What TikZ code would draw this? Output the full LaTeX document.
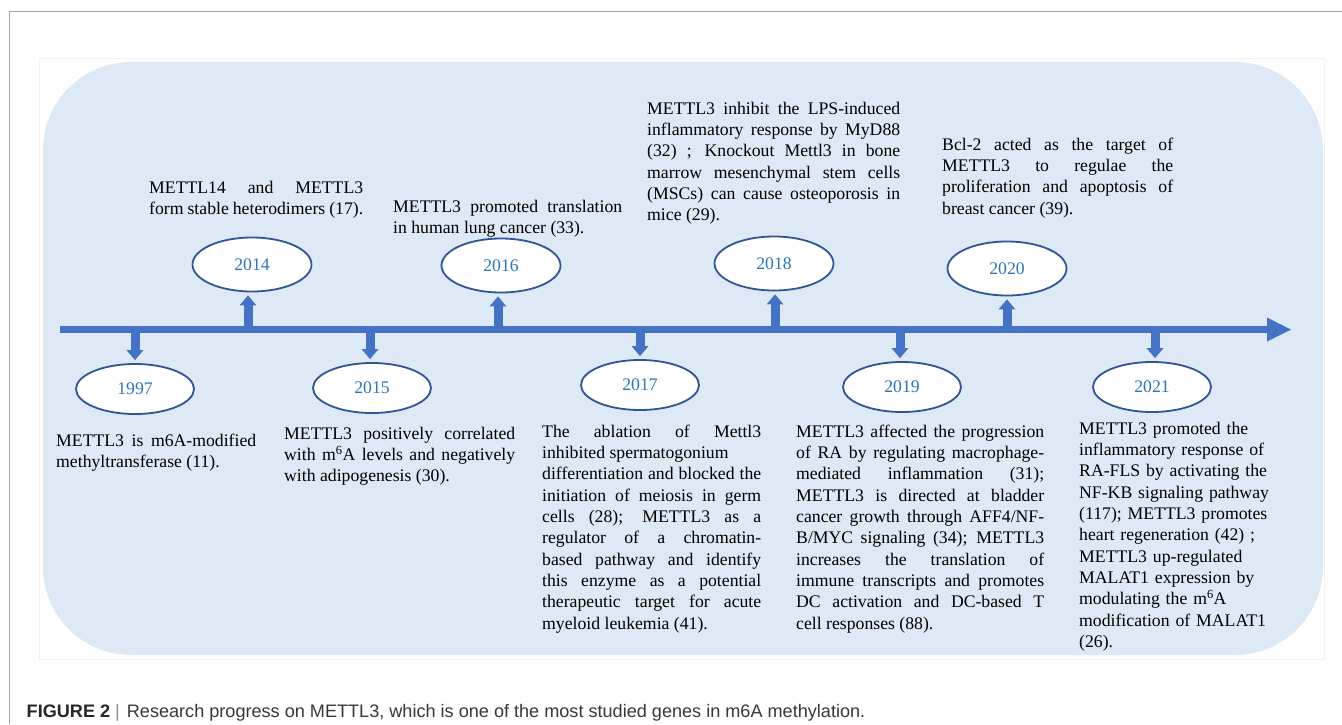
\documentclass[tikz,border=0pt]{standalone}
\usepackage{fontspec}
\setmainfont{Liberation Serif}
\setsansfont{Liberation Sans}
\usetikzlibrary{shapes.geometric,arrows.meta}

\definecolor{panelblue}{RGB}{222,233,246}
\definecolor{arrowblue}{RGB}{68,114,196}
\definecolor{ringblue}{RGB}{47,85,151}
\definecolor{yearblue}{RGB}{46,117,182}
\definecolor{framegray}{RGB}{165,165,165}
\definecolor{captiongray}{RGB}{55,55,55}

\newcommand{\bodyfont}{\fontsize{17.7}{21.35}\selectfont\hyphenpenalty=10000\exhyphenpenalty=10000\tolerance=10000}

\tikzset{
  yearring/.style={ellipse, draw=ringblue, line width=1.8pt, fill=white, inner sep=0pt,
    minimum width=118pt, minimum height=50pt, text=yearblue, font=\bodyfont},
  upring/.style={yearring, minimum width=119pt, minimum height=54pt},
  notetext/.style={anchor=base west, inner sep=0pt, align=justify, font=\bodyfont},
  timeaxis/.style={draw=arrowblue, line width=7pt, -{Triangle[width=24pt,length=24pt,line width=0pt]}},
  branch/.style={draw=arrowblue, line width=9pt, -{Triangle[width=17pt,length=10pt,line width=0pt]}, shorten >=3pt},
}

\begin{document}
\begin{tikzpicture}[x=1pt,y=-1pt]
        \useasboundingbox (0,0) rectangle (1342,724);
        \draw [framegray, line width=1pt] (9,724) -- (9,11) -- (1342,11);
        \draw [black!5, line width=0.8pt] (39,58) rectangle (1324,659);
        \fill [panelblue, rounded corners=88pt] (43,62) rectangle (1323,655);

        \coordinate (start) at (60,329.5);
        \coordinate (finish) at (1291,329.5);
        \draw [timeaxis] (start) -- (finish);

        \node [yearring] (y1997) at (135,389) {1997};
        \node [upring] (y2014) at (252,264.5) {2014};
        \node [yearring] (y2015) at (372,388) {2015};
        \node [upring] (y2016) at (501,265.5) {2016};
        \node [yearring] (y2017) at (640,385) {2017};
        \node [upring] (y2018) at (774,263.5) {2018};
        \node [yearring] (y2019) at (902,387) {2019};
        \node [upring] (y2020) at (1007,268.5) {2020};
        \node [yearring] (y2021) at (1152,387) {2021};

        \coordinate (t1997) at (135,329.5);
        \coordinate (t2014) at (248,329.5);
        \coordinate (t2015) at (370,329.5);
        \coordinate (t2016) at (498,329.5);
        \coordinate (t2017) at (640,329.5);
        \coordinate (t2018) at (775,329.5);
        \coordinate (t2019) at (900,329.5);
        \coordinate (t2020) at (1007,329.5);
        \coordinate (t2021) at (1155,329.5);
        \draw [branch] (t1997) -- (t1997 |- y1997.north);
        \draw [branch] (t2014) -- (t2014 |- y2014.south);
        \draw [branch] (t2015) -- (t2015 |- y2015.north);
        \draw [branch] (t2016) -- (t2016 |- y2016.south);
        \draw [branch] (t2017) -- (t2017 |- y2017.north);
        \draw [branch] (t2018) -- (t2018 |- y2018.south);
        \draw [branch] (t2019) -- (t2019 |- y2019.north);
        \draw [branch] (t2020) -- (t2020 |- y2020.south);
        \draw [branch] (t2021) -- (t2021 |- y2021.north);

        \node [notetext, text width=200pt] (n1997) at (56,446) {METTL3 is m6A-modified\linebreak methyltransferase (11).};
        \node [notetext, text width=214pt] (n2014) at (149,193) {METTL14 and METTL3\linebreak form stable heterodimers (17).};
        \node [notetext, text width=229pt] (n2016) at (393,212) {METTL3 promoted translation\linebreak in human lung cancer (33).};
        \node [notetext, text width=253pt] (n2018) at (647,114) {METTL3 inhibit the LPS-induced\linebreak inflammatory response by MyD88\linebreak (32) ; Knockout Mettl3 in bone\linebreak marrow mesenchymal stem cells\linebreak (MSCs) can cause osteoporosis in\linebreak mice (29).};
        \node [notetext, text width=231pt] (n2020) at (942,150) {Bcl-2 acted as the target of\linebreak METTL3 to regulae the\linebreak proliferation and apoptosis of\linebreak breast cancer (39).};
        \node [notetext, text width=231pt] (n2015) at (284,439) {METTL3 positively correlated\linebreak with m\textsuperscript{6}A levels and negatively\linebreak with adipogenesis (30).};
        \node [notetext, text width=219pt] (n2017) at (542,437) {The ablation of Mettl3\linebreak inhibited spermatogonium\newline differentiation and blocked the\linebreak initiation of meiosis in germ\linebreak cells (28); METTL3 as a\linebreak regulator of a chromatin-\linebreak based pathway and identify\linebreak this enzyme as a potential\linebreak therapeutic target for acute\linebreak myeloid leukemia (41).};
        \node [notetext, text width=248pt] (n2019) at (796,437) {METTL3 affected the progression\linebreak of RA by regulating macrophage-\linebreak mediated inflammation (31);\linebreak METTL3 is directed at bladder\linebreak cancer growth through AFF4/NF-\linebreak B/MYC signaling (34); METTL3\linebreak increases the translation of\linebreak immune transcripts and promotes\linebreak DC activation and DC-based T\linebreak cell responses (88).};
        \node [notetext, text width=200pt, align=left] (n2021) at (1079,434) {METTL3 promoted the\\inflammatory response of\\RA-FLS by activating the\\NF-KB signaling pathway\\(117); METTL3 promotes\\heart regeneration (42) ;\\METTL3 up-regulated\\MALAT1 expression by\\modulating the m\textsuperscript{6}A\\modification of MALAT1\\(26).};

        \node [anchor=base west, inner sep=0pt, text=captiongray, font=\sffamily\fontsize{18.1}{20}\selectfont] (caption) at (26.5,717.5) {{\bfseries\color{black!85}FIGURE 2} {\color{black!45}|}\hspace{7pt}Research progress on METTL3, which is one of the most studied genes in m6A methylation.};
    \end{tikzpicture}
\end{document}
